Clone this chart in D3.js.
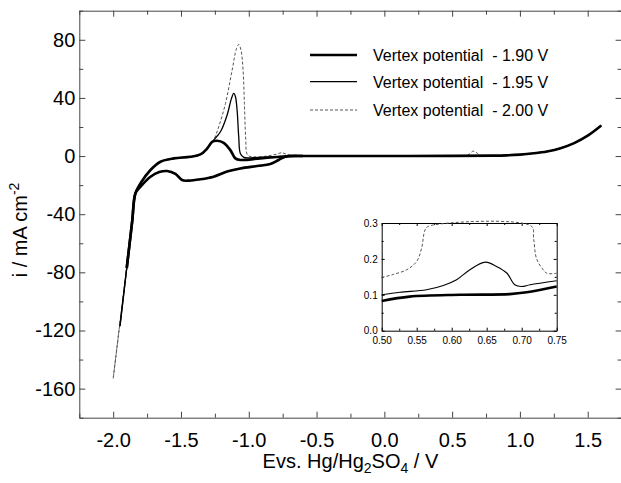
<!DOCTYPE html>
<html>
<head>
<meta charset="utf-8">
<script src="https://cdn.jsdelivr.net/npm/d3@7"></script>
<style>
  html, body { margin: 0; padding: 0; background: #fff; }
  svg { display: block; font-family: "Liberation Sans", Arial, Helvetica, sans-serif; }
</style>
</head>
<body>
<svg id="chart" width="621" height="483"></svg>
<script>
// Cyclic voltammograms: potential (V vs Hg/Hg2SO4) and current density (mA cm^-2)

// Cathodic vertex of each scan
const vertex190 = [[-1.90, -77]];
const vertex195 = [[-1.95, -117]];
const vertex200 = [[-2.00, -153]];

// Steep hydrogen-evolution part shared by all scans, up to the knee
const kneePoints = [[-1.86, -45], [-1.836, -25.6]];

// Forward (positive-going) scan, shared section after the knee
const forwardShared = [[-1.798, -18.7], [-1.725, -9.6], [-1.651, -3.9], [-1.553, -1.6],
  [-1.430, -0.5], [-1.357, 1.1], [-1.307, 5.2]];

// Oxidation peak near -1.1 V for each vertex potential
const peak190 = [[-1.270, 9.8], [-1.234, 10.5], [-1.185, 9.1], [-1.136, 4.1], [-1.099, -1.6],
  [-1.062, -2.7], [-0.915, -1.6], [-0.767, -0.5], [-0.70, 0]];
const peak195 = [[-1.259, 11], [-1.209, 16.7], [-1.160, 28.1], [-1.128, 39.5], [-1.111, 43.1],
  [-1.099, 41.1], [-1.086, 31.5], [-1.074, 13.2], [-1.062, 1.8], [-1.037, -0.9], [-0.964, -1.1],
  [-0.80, -0.4], [-0.70, 0]];
const peak200 = [[-1.259, 11], [-1.222, 20.1], [-1.172, 36.1], [-1.123, 59], [-1.091, 73.8],
  [-1.074, 76.8], [-1.057, 72.7], [-1.042, 59], [-1.032, 36.1], [-1.023, 13.2], [-1.008, 0.7],
  [-0.964, -0.5], [-0.865, 0], [-0.791, 1.4], [-0.755, 2.3], [-0.718, 1], [-0.645, 0.3], [-0.55, 0]];

// Double-layer region and oxygen evolution up to +1.6 V
const plateau = [[-0.5, 0], [0, 0], [0.5, 0.1]];
const bump200 = [[0.60, 0.15], [0.63, 1.6], [0.655, 3.4], [0.685, 2.0], [0.71, 0.2]];
const anodicRise = [[0.8, 0.3], [0.9, 0.5], [1.0, 1.0], [1.1, 1.9], [1.2, 3.2], [1.3, 5.4],
  [1.4, 8.9], [1.5, 14], [1.6, 21]];

// Reverse (negative-going) scan, shared by all vertex potentials
const reverseBranch = [[-0.60, 0], [-0.730, -0.4], [-0.780, -2.7], [-0.841, -5.5], [-0.939, -6.9],
  [-1.062, -8.5], [-1.160, -10.7], [-1.259, -14.2], [-1.357, -16], [-1.443, -16.9],
  [-1.492, -16.5], [-1.541, -12.3], [-1.602, -10.3], [-1.660, -11], [-1.725, -14.2],
  [-1.798, -21], [-1.836, -25.6], [-1.86, -45]];

// Inset: 0.50 - 0.75 V, current density in mA cm^-2
const inset190 = [[0.50, 0.083], [0.54, 0.095], [0.612, 0.1], [0.683, 0.102], [0.707, 0.107], [0.75, 0.123]];
const inset195 = [[0.50, 0.10], [0.526, 0.107], [0.564, 0.114], [0.588, 0.126], [0.607, 0.142],
  [0.626, 0.17], [0.648, 0.191], [0.664, 0.179], [0.679, 0.16], [0.69, 0.128], [0.70, 0.123],
  [0.712, 0.128], [0.75, 0.139]];
const inset200 = [[0.50, 0.148], [0.517, 0.157], [0.536, 0.17], [0.55, 0.193], [0.557, 0.23],
  [0.562, 0.281], [0.567, 0.291], [0.714, 0.291], [0.717, 0.258], [0.721, 0.202], [0.729, 0.174],
  [0.736, 0.16], [0.75, 0.16]];

// Legend texts and tick labels
const legendLabels = ["Vertex potential  - 1.90 V", "Vertex potential  - 1.95 V", "Vertex potential  - 2.00 V"];
const xTicks = [-2.0, -1.5, -1.0, -0.5, 0.0, 0.5, 1.0, 1.5];
const yTicks = [80, 40, 0, -40, -80, -120, -160];
const insetXTicks = [0.50, 0.55, 0.60, 0.65, 0.70, 0.75];
const insetYTicks = [0.0, 0.1, 0.2, 0.3];

// Line styles per scan
const styles = [
  { width: 2.6, color: "#000", dash: null },
  { width: 1.3, color: "#000", dash: null },
  { width: 1.0, color: "#555", dash: "3,2" }
];

const svg = d3.select("#chart");
const plotLeft = 79.3, plotRight = 621.6, plotTop = 10.7, plotBottom = 417.7;

const x = d3.scaleLinear().domain([-2.25, 1.75]).range([plotLeft, plotRight]);
const y = d3.scaleLinear().domain([-180, 100]).range([plotBottom, plotTop]);

const axisColor = "#444";

function styleAxis(g) {
  g.select(".domain").attr("stroke", axisColor);
  g.selectAll(".tick line").attr("stroke", axisColor);
  g.selectAll("text").attr("fill", "#000");
}

const minorX = d3.range(-2.25, 1.76, 0.25).filter(v => Math.abs(Math.round(v * 2) / 2 - v) > 1e-6);
const minorY = d3.range(-180, 101, 20).filter(v => v % 40 !== 0);

// Bottom axis
const gx = svg.append("g").attr("transform", `translate(0,${plotBottom})`)
  .call(d3.axisBottom(x).tickValues(xTicks).tickSizeInner(-6).tickSizeOuter(0).tickPadding(15));
gx.selectAll("text").attr("font-size", 20).attr("font-family", "Liberation Sans, Arial, sans-serif")
  .text(d => d3.format(".1f")(d).replace("\u2212", "-"));
styleAxis(gx);
svg.append("g").attr("transform", `translate(0,${plotBottom})`)
  .call(d3.axisBottom(x).tickValues(minorX).tickSizeInner(-4).tickSizeOuter(0).tickFormat(""))
  .call(g => g.select(".domain").remove()).call(styleAxis);

// Top axis
svg.append("g").attr("transform", `translate(0,${plotTop})`)
  .call(d3.axisTop(x).tickValues(xTicks).tickSizeInner(-6).tickSizeOuter(0).tickFormat(""))
  .call(styleAxis);
svg.append("g").attr("transform", `translate(0,${plotTop})`)
  .call(d3.axisTop(x).tickValues(minorX).tickSizeInner(-4).tickSizeOuter(0).tickFormat(""))
  .call(g => g.select(".domain").remove()).call(styleAxis);

// Left axis
const gy = svg.append("g").attr("transform", `translate(${plotLeft},0)`)
  .call(d3.axisLeft(y).tickValues(yTicks).tickSizeInner(-6).tickSizeOuter(0).tickPadding(4));
gy.selectAll("text").attr("font-size", 20).attr("font-family", "Liberation Sans, Arial, sans-serif")
  .text(d => String(d));
styleAxis(gy);
svg.append("g").attr("transform", `translate(${plotLeft},0)`)
  .call(d3.axisLeft(y).tickValues(minorY).tickSizeInner(-4).tickSizeOuter(0).tickFormat(""))
  .call(g => g.select(".domain").remove()).call(styleAxis);

// Right axis
svg.append("g").attr("transform", `translate(${plotRight},0)`)
  .call(d3.axisRight(y).tickValues(yTicks).tickSizeInner(-6).tickSizeOuter(0).tickFormat(""))
  .call(styleAxis);
svg.append("g").attr("transform", `translate(${plotRight},0)`)
  .call(d3.axisRight(y).tickValues(minorY).tickSizeInner(-4).tickSizeOuter(0).tickFormat(""))
  .call(g => g.select(".domain").remove()).call(styleAxis);

// Axis titles
const xt = svg.append("text").attr("x", (plotLeft + plotRight) / 2).attr("y", 468)
  .attr("text-anchor", "middle").attr("font-size", 20).attr("fill", "#000");
xt.append("tspan").text("Evs. Hg/Hg");
xt.append("tspan").attr("font-size", 14).attr("dy", 5).text("2");
xt.append("tspan").attr("dy", -5).text("SO");
xt.append("tspan").attr("font-size", 14).attr("dy", 5).text("4");
xt.append("tspan").attr("dy", -5).text(" / V");

const yt = svg.append("text").attr("transform", "translate(27,230) rotate(-90)")
  .attr("text-anchor", "middle").attr("font-size", 20).attr("fill", "#000");
yt.append("tspan").text("i / mA cm");
yt.append("tspan").attr("font-size", 14).attr("dy", -8).text("-2");

// Voltammograms
const line = d3.line().x(d => x(d[0])).y(d => y(d[1])).curve(d3.curveCatmullRom.alpha(0.5));

const forwardScans = [
  [...vertex190, ...kneePoints, ...forwardShared, ...peak190, ...plateau, ...anodicRise],
  [...vertex195, ...kneePoints, ...forwardShared, ...peak195, ...plateau, ...anodicRise],
  [...vertex200, ...kneePoints, ...forwardShared, ...peak200, [0, 0], [0.5, 0.1], ...bump200, ...anodicRise]
];
const reverseScans = [
  [...reverseBranch, ...vertex190],
  [...reverseBranch, ...vertex195],
  [...reverseBranch, ...vertex200]
];

const plot = svg.append("g");
[2, 1, 0].forEach(i => {
  const s = styles[i];
  [forwardScans[i], reverseScans[i]].forEach(pts => {
    plot.append("path").attr("d", line(pts)).attr("fill", "none")
      .attr("stroke", s.color).attr("stroke-width", s.width)
      .attr("stroke-dasharray", s.dash).attr("stroke-linejoin", "round");
  });
});

// Legend
const legend = svg.append("g");
const legendY = [55, 81.7, 110];
legendLabels.forEach((label, i) => {
  const s = styles[i];
  legend.append("line").attr("x1", 310).attr("x2", 357).attr("y1", legendY[i]).attr("y2", legendY[i])
    .attr("stroke", s.color).attr("stroke-width", s.width).attr("stroke-dasharray", s.dash);
  legend.append("text").attr("x", 373).attr("y", legendY[i] + 6).attr("font-size", 16)
    .attr("fill", "#000").style("white-space", "pre").text(label);
});

// Inset
const ix = d3.scaleLinear().domain([0.50, 0.75]).range([381.7, 556.7]);
const iy = d3.scaleLinear().domain([0, 0.3]).range([330.7, 223]);
const inset = svg.append("g");
inset.append("rect").attr("x", ix(0.5)).attr("y", iy(0.3))
  .attr("width", ix(0.75) - ix(0.5)).attr("height", iy(0) - iy(0.3))
  .attr("fill", "#fff").attr("stroke", "none");

const ixMinor = d3.range(0.525, 0.75, 0.05);
const iyMinor = [0.05, 0.15, 0.25];
const fmt2 = d3.format(".2f"), fmt1 = d3.format(".1f");

const ib = inset.append("g").attr("transform", `translate(0,${iy(0)})`)
  .call(d3.axisBottom(ix).tickValues(insetXTicks).tickSizeInner(-3).tickSizeOuter(0).tickPadding(6).tickFormat(fmt2));
ib.selectAll("text").attr("font-size", 10).attr("font-family", "Liberation Sans, Arial, sans-serif");
inset.append("g").attr("transform", `translate(0,${iy(0)})`)
  .call(d3.axisBottom(ix).tickValues(ixMinor).tickSizeInner(-2).tickSizeOuter(0).tickFormat(""))
  .call(g => g.select(".domain").remove());
inset.append("g").attr("transform", `translate(0,${iy(0.3)})`)
  .call(d3.axisTop(ix).tickValues(insetXTicks).tickSizeInner(-3).tickSizeOuter(0).tickFormat(""));
inset.append("g").attr("transform", `translate(0,${iy(0.3)})`)
  .call(d3.axisTop(ix).tickValues(ixMinor).tickSizeInner(-2).tickSizeOuter(0).tickFormat(""))
  .call(g => g.select(".domain").remove());
const il = inset.append("g").attr("transform", `translate(${ix(0.5)},0)`)
  .call(d3.axisLeft(iy).tickValues(insetYTicks).tickSizeInner(-3).tickSizeOuter(0).tickPadding(4).tickFormat(fmt1));
il.selectAll("text").attr("font-size", 10).attr("font-family", "Liberation Sans, Arial, sans-serif");
inset.append("g").attr("transform", `translate(${ix(0.5)},0)`)
  .call(d3.axisLeft(iy).tickValues(iyMinor).tickSizeInner(-2).tickSizeOuter(0).tickFormat(""))
  .call(g => g.select(".domain").remove());
inset.append("g").attr("transform", `translate(${ix(0.75)},0)`)
  .call(d3.axisRight(iy).tickValues(insetYTicks).tickSizeInner(-3).tickSizeOuter(0).tickFormat(""));
inset.append("g").attr("transform", `translate(${ix(0.75)},0)`)
  .call(d3.axisRight(iy).tickValues(iyMinor).tickSizeInner(-2).tickSizeOuter(0).tickFormat(""))
  .call(g => g.select(".domain").remove());

const iline = d3.line().x(d => ix(d[0])).y(d => iy(d[1])).curve(d3.curveCatmullRom.alpha(0.5));
[inset200, inset195, inset190].forEach((pts, k) => {
  const s = styles[2 - k];
  inset.append("path").attr("d", iline(pts)).attr("fill", "none")
    .attr("stroke", s.color).attr("stroke-width", s.width === 1.3 ? 1.1 : s.width)
    .attr("stroke-dasharray", s.dash);
});
</script>
</body>
</html>
